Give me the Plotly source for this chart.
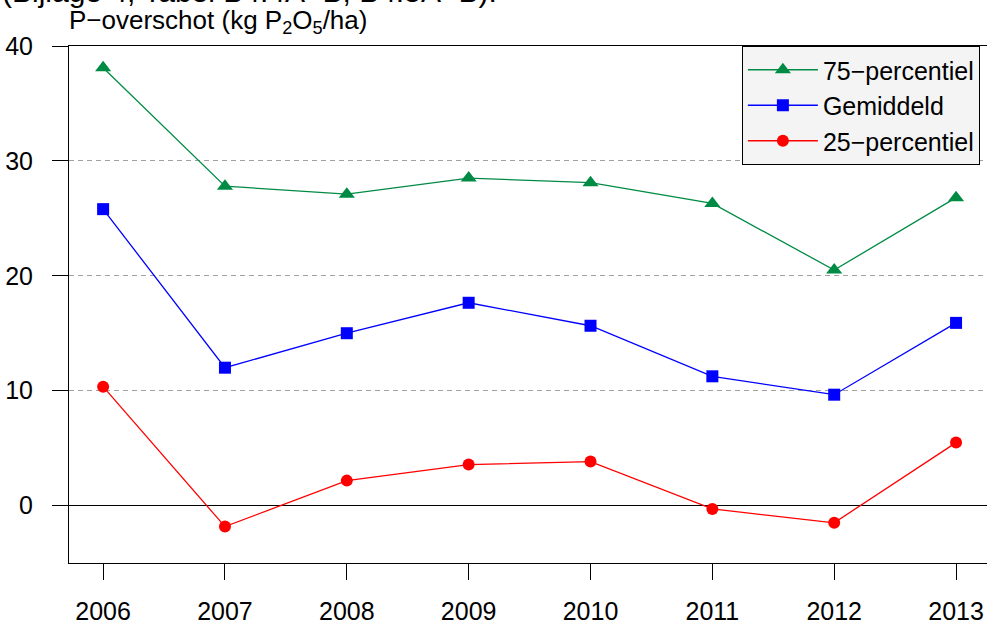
import plotly.graph_objects as go

years = [2006, 2007, 2008, 2009, 2010, 2011, 2012, 2013]
p75 = [38.1, 27.8, 27.1, 28.5, 28.1, 26.3, 20.5, 26.8]
mean = [25.8, 12.0, 15.0, 17.65, 15.65, 11.25, 9.65, 15.9]
p25 = [10.35, -1.83, 2.17, 3.57, 3.83, -0.29, -1.5, 5.48]
y_ticks = [0, 10, 20, 30, 40]
series_names = ["75\u2212percentiel", "Gemiddeld", "25\u2212percentiel"]

FONT = "Liberation Sans, Arial, sans-serif"

fig = go.Figure()
fig.add_trace(go.Scatter(x=years, y=p75, mode="lines+markers", name=series_names[0],
                         line=dict(color="#008B45", width=1.3),
                         marker=dict(symbol="triangle-up", size=14, color="#008B45")))
fig.add_trace(go.Scatter(x=years, y=mean, mode="lines+markers", name=series_names[1],
                         line=dict(color="#0000FF", width=1.3),
                         marker=dict(symbol="square", size=12, color="#0000FF")))
fig.add_trace(go.Scatter(x=years, y=p25, mode="lines+markers", name=series_names[2],
                         line=dict(color="#FF0000", width=1.3),
                         marker=dict(symbol="circle", size=12, color="#FF0000")))

fig.update_layout(
    width=987, height=622,
    margin=dict(l=69, r=0, t=46, b=59),
    paper_bgcolor="white", plot_bgcolor="white",
    font=dict(family=FONT, size=24, color="black"),
    showlegend=True,
    legend=dict(x=0.733, y=1, xanchor="left", yanchor="top",
                bgcolor="#F4F4F4", bordercolor="black", borderwidth=1,
                font=dict(size=25), tracegroupgap=0, itemwidth=70),
    xaxis=dict(range=[2005.72, 2013.254], tickmode="array", tickvals=years,
               ticktext=[str(y) for y in years], automargin=False,
               showline=True, linecolor="black", linewidth=1, mirror=True,
               ticks="outside", ticklen=16, tickcolor="black", tickwidth=1,
               showgrid=False, zeroline=False, ticklabelstandoff=10,
               tickfont=dict(size=25)),
    yaxis=dict(range=[-5, 40], tickmode="array", tickvals=y_ticks, automargin=False,
               showline=True, linecolor="black", linewidth=1, mirror=True,
               ticks="outside", ticklen=16, tickcolor="black", tickwidth=1,
               showgrid=True, gridcolor="#A0A0A0", griddash="5px,4px", gridwidth=1,
               zeroline=True, zerolinecolor="black", zerolinewidth=1,
               ticklabelstandoff=14, tickfont=dict(size=25)),
    annotations=[
        dict(text="P\u2212overschot (kg P<sub>2</sub>O<sub>5</sub>/ha)", xref="paper", yref="paper",
             x=0, y=1, xanchor="left", yanchor="bottom", yshift=6, xshift=-2,
             showarrow=False, font=dict(size=26)),
        dict(text="(Bijlage 4, Tabel B4.4A+B, B4.5A+B).", xref="paper", yref="paper",
             x=-0.075, y=1, xanchor="left", yanchor="bottom", yshift=36,
             showarrow=False, font=dict(size=30)),
    ],
)

fig.write_html("out.html", config={"displayModeBar": False},
               post_script="document.body.style.margin='0px';document.body.style.overflow='hidden';")
